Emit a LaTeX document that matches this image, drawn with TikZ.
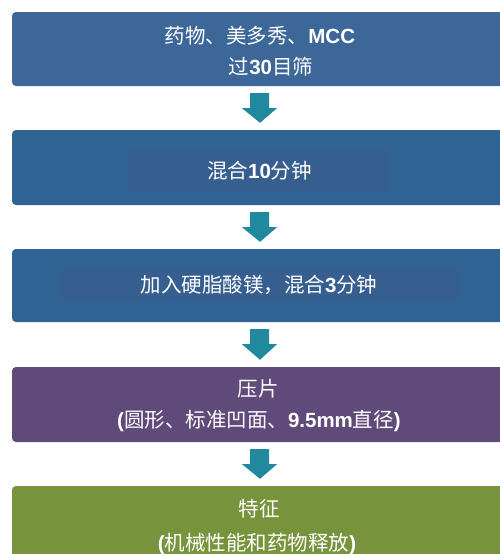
\documentclass[tikz,border=0pt]{standalone}
\usepackage{fontspec}
\setmainfont{Liberation Sans}
\newfontfamily\cjk{Noto Sans CJK SC}
\newcommand\lb[1]{{\normalfont\bfseries #1}}
\usetikzlibrary{calc}
\definecolor{boxA}{RGB}{61,102,153}
\definecolor{boxB}{RGB}{46,99,147}
\definecolor{boxBin}{RGB}{54,95,143}
\definecolor{boxP}{RGB}{95,74,122}
\definecolor{boxG}{RGB}{119,147,60}
\definecolor{arrowc}{RGB}{33,137,157}
\tikzset{
  stepbox/.style={rounded corners=4pt, inner sep=0pt, minimum width=496pt, minimum height=75pt},
  txt/.style={anchor=base, inner sep=0pt, text=white, font=\cjk\fontsize{20.5}{30}\selectfont},
}
\newcommand\blockarrow[2]{%
  \fill[arrowc] ($(#1.south)+(-10,7)$) -- ($(#1.south)+(9,7)$) -- ($(#1.south)+(9,22)$)
    -- ($(#1.south)+(17,22)$) -- ($(#2.north)+(0,-7)$) -- ($(#1.south)+(-18,22)$)
    -- ($(#1.south)+(-10,22)$) -- cycle;}
\begin{document}
\begin{tikzpicture}[x=1pt,y=-1pt]
\useasboundingbox (0,0) rectangle (499,554);
\fill[white] (0,0) rectangle (499,554);
\node[stepbox, fill=boxA, minimum height=74pt] (b1) at (260,49) {};
\node[stepbox, fill=boxB] (b2) at (260,167.5) {};
\node[stepbox, fill=boxB, minimum height=73pt] (b3) at (260,285.5) {};
\node[stepbox, fill=boxP] (b4) at (260,404.5) {};
\node[stepbox, fill=boxG] (b5) at (260,523.5) {};
\fill[boxBin] (128,149) rectangle (390,192);
\fill[boxBin] (60,267) rectangle (460,301);
\node[txt] (t1a) at (260,43.5) {药物、美多秀、\lb{MCC}};
\node[txt] (t1b) at (271,74) {过\lb{30}目筛};
\node[txt] (t2) at (259.5,178) {混合\lb{10}分钟};
\node[txt] (t3) at (259,292) {加入硬脂酸镁，混合\lb{3}分钟};
\node[txt] (t4a) at (258,396) {压片};
\node[txt] (t4b) at (259,427) {\lb{(}圆形、标准凹面、\lb{9.5mm}直径\lb{)}};
\node[txt] (t5a) at (259,516) {特征};
\node[txt] (t5b) at (257,550) {\lb{(}机械性能和药物释放\lb{)}};
\blockarrow{b1}{b2}
\blockarrow{b2}{b3}
\blockarrow{b3}{b4}
\blockarrow{b4}{b5}
\end{tikzpicture}
\end{document}
